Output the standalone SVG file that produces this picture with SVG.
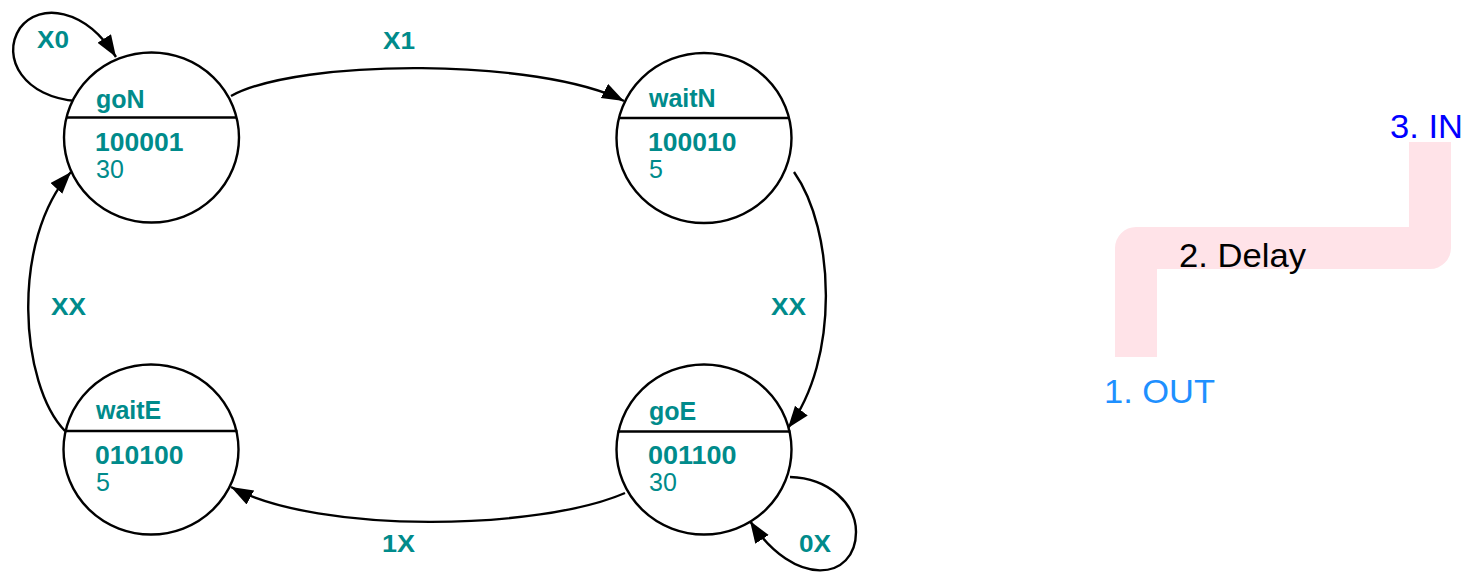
<svg xmlns="http://www.w3.org/2000/svg" width="1466" height="573" viewBox="0 0 1466 573">
  <defs>
    <marker id="arrow" markerUnits="userSpaceOnUse" markerWidth="24" markerHeight="18" refX="22" refY="8" orient="auto">
      <path d="M0,0 L22,8 L0,16 z" fill="#000"/>
    </marker>
  </defs>
  <style>
    .state { fill: #fff; stroke: #000; stroke-width: 2.4; }
    .divider { stroke: #000; stroke-width: 2.4; }
    .name, .code { font-family: "Liberation Sans", Arial, sans-serif; font-weight: bold; font-size: 25px; fill: #008b8b; }
    .time { font-family: "Liberation Sans", Arial, sans-serif; font-size: 25px; fill: #008b8b; }
    .edge { fill: none; stroke: #000; stroke-width: 2.4; marker-end: url(#arrow); }
    .elabel { font-family: "Liberation Sans", Arial, sans-serif; font-weight: bold; font-size: 23px; fill: #008b8b; }
    .legend { font-family: "Liberation Sans", Arial, sans-serif; font-size: 33px; }
  </style>

  <rect width="1466" height="573" fill="#fff"/>

  <!-- transitions -->
  <g id="connectors">
    <path class="edge" d="M77,101 C25,98 0,58 20,28 C40,2 85,8 116,57"/>
    <path class="edge" d="M231,96 C300,58 540,58 624,101"/>
    <path class="edge" d="M794,172 C835,230 840,360 788,428"/>
    <path class="edge" d="M625,493 C540,530 320,535 231,487"/>
    <path class="edge" d="M65,431 C20,385 10,240 71,172"/>
    <path class="edge" d="M790,477 C830,478 856,505 856,532 C856,580 795,590 750,521"/>
    <text class="elabel" x="37" y="48" textLength="32" lengthAdjust="spacingAndGlyphs">X0</text>
    <text class="elabel" x="383" y="49" textLength="32" lengthAdjust="spacingAndGlyphs">X1</text>
    <text class="elabel" x="771" y="315" textLength="35" lengthAdjust="spacingAndGlyphs">XX</text>
    <text class="elabel" x="51" y="315" textLength="35" lengthAdjust="spacingAndGlyphs">XX</text>
    <text class="elabel" x="382" y="552" textLength="33" lengthAdjust="spacingAndGlyphs">1X</text>
    <text class="elabel" x="799" y="552" textLength="32" lengthAdjust="spacingAndGlyphs">0X</text>
  </g>

  <g id="goN">
    <ellipse class="state" cx="151.5" cy="137.5" rx="87.5" ry="85"/>
    <line class="divider" x1="66" y1="117.5" x2="237" y2="117.5"/>
    <text class="name" x="96" y="108">goN</text>
    <text class="code" x="95" y="151" textLength="88.5" lengthAdjust="spacingAndGlyphs">100001</text>
    <text class="time" x="96" y="178">30</text>
  </g>

  <g id="waitN">
    <ellipse class="state" cx="704" cy="138" rx="87.5" ry="85"/>
    <line class="divider" x1="618.5" y1="118" x2="789.5" y2="118"/>
    <text class="name" x="649" y="107">waitN</text>
    <text class="code" x="648" y="151" textLength="88.5" lengthAdjust="spacingAndGlyphs">100010</text>
    <text class="time" x="649" y="178">5</text>
  </g>

  <g id="goE">
    <ellipse class="state" cx="704" cy="449.5" rx="87.5" ry="85"/>
    <line class="divider" x1="617.5" y1="431.5" x2="790.5" y2="431.5"/>
    <text class="name" x="649" y="420">goE</text>
    <text class="code" x="648" y="464" textLength="88.5" lengthAdjust="spacingAndGlyphs">001100</text>
    <text class="time" x="649" y="491">30</text>
  </g>

  <g id="waitE">
    <ellipse class="state" cx="151" cy="449.5" rx="87.5" ry="85"/>
    <line class="divider" x1="64.5" y1="431" x2="237.5" y2="431"/>
    <text class="name" x="96" y="419">waitE</text>
    <text class="code" x="95" y="464" textLength="88.5" lengthAdjust="spacingAndGlyphs">010100</text>
    <text class="time" x="96" y="491">5</text>
  </g>

  <!-- route band with its stop labels -->
  <g id="route">
    <path d="M1136,357 V248 H1430 V142" fill="none" stroke="#ffe3e8" stroke-width="42" stroke-linejoin="round"/>
    <text class="legend" x="1390" y="138" fill="#0000ff" textLength="73" lengthAdjust="spacingAndGlyphs">3. IN</text>
    <text class="legend" x="1179" y="267" fill="#000" textLength="127" lengthAdjust="spacingAndGlyphs">2. Delay</text>
    <text class="legend" x="1104" y="403" fill="#1e90ff" textLength="111" lengthAdjust="spacingAndGlyphs">1. OUT</text>
  </g>
</svg>
